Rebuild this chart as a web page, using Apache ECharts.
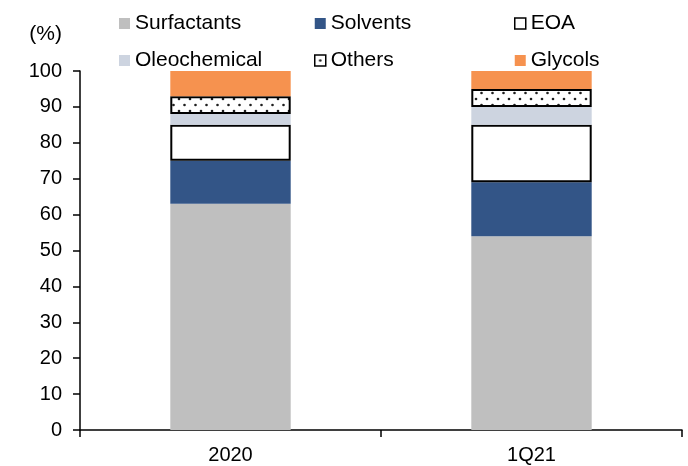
<!DOCTYPE html>
<html>
<head>
<meta charset="utf-8">
<script src="https://cdn.jsdelivr.net/npm/echarts@6/dist/echarts.min.js"></script>
<style>
  html, body { margin: 0; padding: 0; background: #ffffff; }
  #chart { width: 688px; height: 466px; }
</style>
</head>
<body>
<div id="chart"></div>
<script>
// Product mix by share of volume (%)
const categories = ['2020', '1Q21'];
const surfactants = [63, 54];
const solvents = [12, 15];
const eoa = [10, 16];
const oleochemical = [3, 5];
const others = [5, 5];
const glycols = [7, 5];
const yTicks = { min: 0, max: 100, step: 10 };

const FONT = 'Liberation Sans, Arial, sans-serif';

// dotted fill used for the "Others" segment
function dotPattern(w, h, dots, r) {
  const c = document.createElement('canvas');
  c.width = w; c.height = h;
  const ctx = c.getContext('2d');
  ctx.fillStyle = '#ffffff';
  ctx.fillRect(0, 0, w, h);
  ctx.fillStyle = '#1e1e1e';
  dots.forEach(function (d) {
    ctx.beginPath();
    ctx.arc(d[0], d[1], r, 0, Math.PI * 2);
    ctx.fill();
  });
  return { image: c, repeat: 'repeat' };
}
const othersFill = dotPattern(11, 12, [[3, 3], [8.5, 9]], 1.3);
const othersIcon = dotPattern(11, 11, [[5.5, 5.5]], 1.3);

function bar(name, data, style) {
  return {
    name: name,
    type: 'bar',
    stack: 'mix',
    barWidth: '40%',
    data: data,
    itemStyle: style,
    emphasis: { disabled: true }
  };
}

const legendBase = {
  orient: 'vertical',
  top: 8,
  itemGap: 16,
  itemWidth: 11,
  itemHeight: 11,
  icon: 'rect',
  selectedMode: false,
  textStyle: { fontFamily: FONT, fontSize: 21, color: '#000000' }
};

const chart = echarts.init(document.getElementById('chart'));
chart.setOption({
  animation: false,
  backgroundColor: '#ffffff',
  textStyle: { fontFamily: FONT },
  legend: [
    Object.assign({}, legendBase, { left: 114, data: ['Surfactants', 'Oleochemical'] }),
    Object.assign({}, legendBase, { left: 309, data: ['Solvents', { name: 'Others', itemStyle: { color: othersIcon, borderColor: '#000', borderWidth: 1.5 } }] }),
    Object.assign({}, legendBase, { left: 509, data: [{ name: 'EOA', itemStyle: { borderWidth: 1.5 } }, 'Glycols'] })
  ],
  grid: { left: 80, right: 6, top: 71, bottom: 36 },
  xAxis: {
    type: 'category',
    data: categories,
    axisLine: { lineStyle: { color: '#000000', width: 1.5 } },
    axisTick: { show: true, length: 7, lineStyle: { color: '#000000', width: 1.5 } },
    axisLabel: { margin: 15, fontSize: 20, color: '#000000', fontFamily: FONT }
  },
  yAxis: {
    type: 'value',
    min: yTicks.min,
    max: yTicks.max,
    interval: yTicks.step,
    name: '(%)',
    nameLocation: 'end',
    nameGap: 26,
    nameTextStyle: { fontSize: 21, color: '#000000', fontFamily: FONT, align: 'right', padding: [0, 18, 0, 0] },
    splitLine: { show: false },
    axisLine: { show: true, lineStyle: { color: '#000000', width: 1.5 } },
    axisTick: { show: true, length: 7, lineStyle: { color: '#000000', width: 1.5 } },
    axisLabel: { margin: 18, fontSize: 20, color: '#000000', fontFamily: FONT }
  },
  series: [
    bar('Surfactants', surfactants, { color: '#bfbfbf' }),
    bar('Solvents', solvents, { color: '#335587' }),
    bar('EOA', eoa, { color: '#ffffff', borderColor: '#000000', borderWidth: 2 }),
    bar('Oleochemical', oleochemical, { color: '#cdd4e0' }),
    bar('Others', others, { color: othersFill, borderColor: '#000000', borderWidth: 2 }),
    bar('Glycols', glycols, { color: '#f6924f' })
  ]
});
</script>
</body>
</html>
